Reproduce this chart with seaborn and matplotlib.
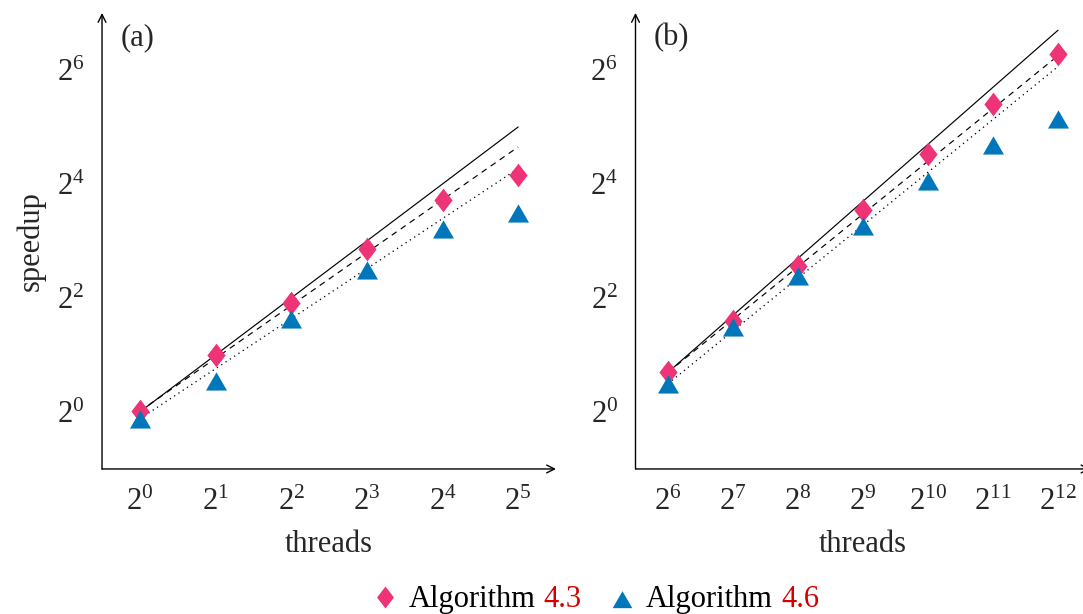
import matplotlib
matplotlib.use("Agg")
import matplotlib.pyplot as plt
import seaborn as sns
from matplotlib.path import Path
from matplotlib.markers import MarkerStyle
from matplotlib.lines import Line2D
from matplotlib.offsetbox import AnchoredOffsetbox, HPacker, TextArea, DrawingArea

# ── data (speedup) ────────────────────────────────────────────────────────
threads_a = [1, 2, 4, 8, 16, 32]
alg43_a = [1.01, 2.00, 3.76, 7.26, 13.18, 17.88]
alg46_a = [0.89, 1.41, 2.99, 5.43, 8.94, 10.86]
ends_a = [1, 32]
ideal_a = [1.00, 32.0]
fit43_a = [1.01, 25.1]
fit46_a = [0.92, 19.3]

threads_b = [64, 128, 256, 512, 1024, 2048, 4096]
alg43_b = [1.62, 3.03, 5.90, 11.63, 23.1, 42.5, 77.7]
alg46_b = [1.36, 2.70, 5.06, 9.25, 16.0, 24.8, 33.8]
ends_b = [64, 4096]
ideal_b = [1.62, 103.7]
fit43_b = [1.62, 76.1]
fit46_b = [1.41, 66.7]

xticks_a = [1, 2, 4, 8, 16, 32]
xticks_b = [64, 128, 256, 512, 1024, 2048, 4096]
yticks = [1, 4, 16, 64]

PINK = "#EE3377"
BLUE = "#0077BB"
RED = "#D40000"
FS = 22

sns.set_style("white")
plt.rcParams["font.family"] = ["Liberation Serif", "DejaVu Serif"]
plt.rcParams["mathtext.fontset"] = "custom"
plt.rcParams["mathtext.rm"] = "Liberation Serif"
plt.rcParams["mathtext.it"] = "Liberation Serif:italic"
plt.rcParams["lines.scale_dashes"] = False

# pgfplots-like markers: tall diamond, equilateral triangle
diamond = MarkerStyle(Path([(0, 1), (0.77, 0), (0, -1), (-0.77, 0), (0, 1)],
                           [1, 2, 2, 2, 79]))
triangle = MarkerStyle(Path([(0, 1), (-0.866, -0.5), (0.866, -0.5), (0, 1)],
                            [1, 2, 2, 79]))

fig = plt.figure(figsize=(10.83, 6.14), dpi=100)
ax_a = fig.add_axes([0.0942, 0.2362, 0.4192, 0.7427])
ax_b = fig.add_axes([0.5868, 0.2362, 0.4201, 0.7427])


def draw_panel(ax, threads, a43, a46, ends, ideal, f43, f46, xticks, xlim, tag):
    ax.set_xscale("log", base=2)
    ax.set_yscale("log", base=2)

    sns.lineplot(x=ends, y=ideal, ax=ax, color="black", lw=0.85, zorder=1)
    sns.lineplot(x=ends, y=f43, ax=ax, color="black", lw=0.85, zorder=1,
                 linestyle=(0, (4.3, 3.6)))
    sns.lineplot(x=ends, y=f46, ax=ax, color="black", lw=0.95, zorder=1,
                 linestyle=(0, (0.9, 2.8)))
    sns.scatterplot(x=threads, y=a43, ax=ax, marker=diamond, s=290,
                    color=PINK, linewidth=0, zorder=3)
    sns.scatterplot(x=threads, y=a46, ax=ax, marker=triangle, s=305,
                    color=BLUE, linewidth=0, zorder=3)

    ax.set_xlim(*xlim)
    ax.set_ylim(2 ** -1, 2 ** 7)
    ax.set_xticks(xticks)
    ax.set_xticklabels([rf"$2^{{{t.bit_length() - 1}}}$" for t in xticks])
    ax.set_yticks(yticks)
    ax.set_yticklabels([rf"$2^{{{t.bit_length() - 1}}}$" for t in yticks])
    ax.minorticks_off()
    ax.tick_params(axis="both", direction="inout", length=7.2, width=0.6,
                   color="#808080", labelsize=FS)
    ax.tick_params(axis="x", pad=10)
    ax.tick_params(axis="y", pad=9)

    for s in ax.spines.values():
        s.set_visible(False)
    arrow = dict(arrowstyle="->", lw=1.0, color="black", shrinkA=0, shrinkB=0,
                 mutation_scale=14)
    ax.annotate("", xy=(1, 0), xytext=(0, 0), xycoords="axes fraction",
                arrowprops=arrow, annotation_clip=False)
    ax.annotate("", xy=(0, 1), xytext=(0, 0), xycoords="axes fraction",
                arrowprops=arrow, annotation_clip=False)

    ax.text(0.04, 0.946, tag, transform=ax.transAxes, fontsize=FS,
            ha="left", va="center")
    ax.set_xlabel("threads", fontsize=FS, labelpad=9)


draw_panel(ax_a, threads_a, alg43_a, alg46_a, ends_a, ideal_a, fit43_a, fit46_a,
           xticks_a, (2 ** -0.5, 2 ** 5.5), "(a)")
draw_panel(ax_b, threads_b, alg43_b, alg46_b, ends_b, ideal_b, fit43_b, fit46_b,
           xticks_b, (2 ** 5.5, 2 ** 12.5), "(b)")
ax_a.set_ylabel("speedup", fontsize=FS, labelpad=8)


# ── legend with red reference numbers ──────────────────────────────────────
def marker_box(marker, ms, yc, color):
    da = DrawingArea(18, 16, 0, 0)
    da.add_artist(Line2D([9], [yc], marker=marker, markersize=ms, color=color,
                         markeredgewidth=0, linestyle="none"))
    return da


def entry(marker, ms, yc, color, num):
    return HPacker(children=[
        marker_box(marker, ms, yc, color),
        HPacker(children=[TextArea("Algorithm", textprops=dict(fontsize=FS, color="black")),
                          TextArea(num, textprops=dict(fontsize=FS, color=RED))],
                sep=6, align="baseline"),
    ], sep=8, align="baseline")


legend_box = HPacker(children=[entry(diamond, 15.8, 7.9, PINK, "4.3"),
                               entry(triangle, 16.3, 4.1, BLUE, "4.6")],
                     sep=20, align="baseline")
fig.add_artist(AnchoredOffsetbox(loc="center", child=legend_box, pad=0,
                                 borderpad=0, frameon=False,
                                 bbox_to_anchor=(0.550, 0.023),
                                 bbox_transform=fig.transFigure))

fig.savefig("out.png", dpi=100)
